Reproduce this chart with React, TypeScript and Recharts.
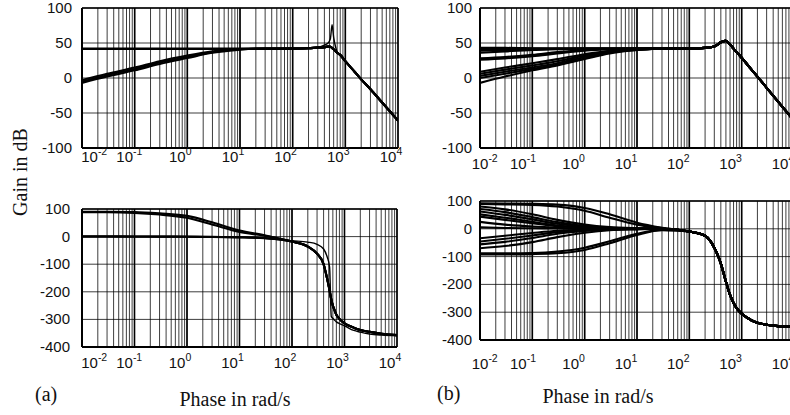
import { LineChart, Line, XAxis, YAxis, CartesianGrid, ReferenceLine } from 'recharts';

// frequency grids in rad/s
const freqA = [0.01, 0.03, 0.1, 0.3, 1, 3, 10, 30, 100, 200, 300, 400, 470, 520, 560, 600, 650, 700, 800, 1000, 1500, 2000, 3000, 5000, 10000];
const freqB = [0.01, 0.03, 0.1, 0.3, 1, 3, 10, 30, 100, 200, 300, 400, 500, 600, 700, 800, 1000, 1500, 2000, 3000, 5000, 10000];

// tick labels
const decadeExps = ['-2', '-1', '0', '1', '2', '3', '4'];
const gainTicks = [-100, -50, 0, 50, 100];
const phaseTicks = [-400, -300, -200, -100, 0, 100];

// (a) gain in dB
const gainTailA = [42, 42.5, 43.5, 44, 45, 44.5, 43, 41, 38.5, 36, 33, 24, 9, -2, -16, -35, -61];
const gainFlatA = [42, 42, 42, 42, 42, 42, 42, 42].concat(gainTailA);
const gainFlat2A = [41.5, 41.5, 41.5, 41.5, 41.5, 41.5, 41.5, 41.5].concat(gainTailA);
const gainRise1A = [-5, 4, 13, 22, 30, 37, 41, 42].concat(gainTailA);
const gainRise2A = [-7, 2, 11, 20, 28.5, 36, 40.5, 42].concat(gainTailA);
const gainRise3A = [-3, 6, 15, 24, 32, 38, 41.5, 42].concat(gainTailA);
const gainSharpA = [42, 42, 42, 42, 42, 42, 42, 42, 42, 42.5, 43.5, 47, 50, 56, 76, 58, 45, 37, 33, 24, 9, -2, -16, -35, -61];

// (a) phase
const phaseTailA = [-18, -36, -62, -100, -155, -195, -228, -250, -268, -283, -298, -314, -330, -338, -345, -352, -357];
const phaseRise1A = [90, 90, 89, 84, 75, 52, 22, 5].concat(phaseTailA);
const phaseRise2A = [88, 88, 86, 80, 68, 44, 17, 3].concat(phaseTailA);
const phaseFlat1A = [0, 0, 0, 0, 0, -1, -2, -5].concat(phaseTailA);
const phaseFlat2A = [1, 1, 0.5, 0, -0.5, -1.5, -3, -6].concat(phaseTailA);
const phaseSharpA = [0, 0, 0, 0, 0, -1, -2, -5, -15, -20, -28, -45, -75, -110, -290, -296, -303, -309, -315, -323, -340, -346, -353, -357, -359];

// (b) gain in dB
const gainTailB = [42, 43, 45, 51, 53, 48, 42, 37, 29, 13, 2, -14, -34, -61];
const gainHeadsB = [
  [43, 43, 42.5, 42, 42, 42, 42, 42],
  [41, 41.5, 42, 42, 42, 42, 42, 42],
  [39, 40, 41, 42, 42, 42, 42, 42],
  [36, 38, 40, 41, 42, 42, 42, 42],
  [28, 30, 33, 37, 40, 41.5, 42, 42],
  [26, 28, 31, 35, 39, 41, 42, 42],
  [9, 15, 21, 27, 34, 39, 41, 42],
  [6, 12, 18, 24, 32, 38, 41, 42],
  [3, 9, 15, 21, 30, 37, 40.5, 42],
  [0, 6, 13, 19, 28, 36, 40, 42],
  [-7, 2, 11, 18, 27, 35, 40, 42],
];

// (b) phase
const phaseTailB = [-10, -25, -68, -125, -190, -238, -267, -285, -305, -328, -338, -345, -350, -353];
const phaseHeadsB = [
  [92, 91, 90, 87, 75, 52, 22, 4],
  [89, 88, 86, 80, 65, 40, 15, 3],
  [80, 70, 52, 32, 15, 6, 2, 0],
  [71, 60, 42, 24, 10, 4, 1, 0],
  [62, 50, 34, 18, 8, 3, 1, 0],
  [52, 40, 25, 12, 5, 2, 0, 0],
  [44, 32, 20, 9, 4, 1, 0, 0],
  [25, 15, 8, 4, 2, 1, 0, 0],
  [5, 3, 2, 1, 0, 0, 0, 0],
  [-34, -25, -15, -7, -3, -1, 0, 0],
  [-46, -36, -24, -12, -5, -2, 0, 0],
  [-56, -47, -33, -18, -8, -3, -1, 0],
  [-70, -62, -48, -30, -14, -5, -2, 0],
  [-88, -88, -87, -82, -68, -45, -18, -4],
  [-92, -92, -91, -88, -76, -52, -22, -5],
];

const SANS = "'Liberation Sans', Arial, sans-serif";
const SERIF = "'Liberation Serif', 'Times New Roman', serif";

// grid lines at 1..9 x 10^k
const gridTicks: number[] = [];
for (let d = -2; d <= 3; d++) {
  for (let m = 1; m <= 9; m++) gridTicks.push(Number((m * Math.pow(10, d)).toPrecision(6)));
}
gridTicks.push(10000);
const decades = decadeExps.map((e) => Math.pow(10, Number(e)));

function buildRows(freq: number[], series: number[][]) {
  return freq.map((w, i) => {
    const row: Record<string, number> = { w };
    series.forEach((s, k) => { row['s' + k] = s[i]; });
    return row;
  });
}

type PanelProps = {
  left: number; top: number; width: number; height: number;
  plotLeft: number; plotTop: number; plotHeight: number; marginRight: number;
  freq: number[]; series: number[][]; thin?: number[];
  yDomain: [number, number]; yTicks: number[];
  labelDy: number; firstDx: number; restDx: number; yGap: number;
};

function Panel(p: PanelProps) {
  const rows = buildRows(p.freq, p.series);
  const plotBottom = p.plotTop + p.plotHeight;

  const xTick = (props: any) => {
    const v = props.payload.value;
    const lg = Math.log10(v);
    const e = Math.round(lg);
    if (Math.abs(lg - e) > 1e-6) return <g />;
    const k = e + 2;
    const cx = props.x + (k === 0 ? p.firstDx : p.restDx);
    return (
      <text x={cx - 8.3} y={plotBottom + p.labelDy + 6} fontSize={15} fontFamily={SANS} fill="#111">
        10<tspan dy={-7} fontSize={10.5}>{decadeExps[k]}</tspan>
      </text>
    );
  };

  const yTick = (props: any) => (
    <text x={p.plotLeft - p.yGap} y={props.y + 5} textAnchor="end" fontSize={15} fontFamily={SANS} fill="#111">
      {props.payload.value}
    </text>
  );

  return (
    <div style={{ position: 'absolute', left: p.left, top: p.top }}>
      <LineChart
        width={p.width}
        height={p.height}
        data={rows}
        margin={{ top: p.plotTop, right: p.marginRight, bottom: 0, left: 0 }}
      >
        <CartesianGrid stroke="#000" strokeWidth={0.9} strokeOpacity={0.85} />
        <XAxis
          dataKey="w"
          type="number"
          scale="log"
          domain={[0.01, 10000]}
          ticks={gridTicks}
          allowDataOverflow
          interval={0}
          height={p.height - plotBottom}
          tickLine={false}
          axisLine={{ stroke: '#000', strokeWidth: 2 }}
          tick={xTick}
        />
        <YAxis
          type="number"
          domain={p.yDomain}
          ticks={p.yTicks}
          interval={0}
          width={p.plotLeft}
          tickLine={false}
          axisLine={{ stroke: '#000', strokeWidth: 2 }}
          tick={yTick}
        />
        {decades.map((d) => (
          <ReferenceLine key={'d' + d} x={d} stroke="#000" strokeWidth={1.6} />
        ))}
        <ReferenceLine y={p.yDomain[1]} stroke="#000" strokeWidth={1.6} />
        {p.series.map((_, k) => (
          <Line
            key={k}
            dataKey={'s' + k}
            type="monotone"
            stroke="#000"
            strokeWidth={p.thin && p.thin.includes(k) ? 1.4 : 2.1}
            dot={false}
            isAnimationActive={false}
          />
        ))}
      </LineChart>
    </div>
  );
}

export default function App() {
  const seriesGainA = [gainFlatA, gainFlat2A, gainRise1A, gainRise2A, gainRise3A, gainSharpA];
  const seriesPhaseA = [phaseRise1A, phaseRise2A, phaseFlat1A, phaseFlat2A, phaseSharpA];
  const seriesGainB = gainHeadsB.map((h) => h.concat(gainTailB));
  const seriesPhaseB = phaseHeadsB.map((h) => h.concat(phaseTailB));

  return (
    <div style={{ position: 'absolute', left: 0, top: 0, width: 790, height: 415, overflow: 'hidden', background: '#fff' }}>
      <svg width={790} height={415} style={{ position: 'absolute', left: 0, top: 0 }}>
        <text transform="translate(26.5,172) rotate(-90)" textAnchor="middle" fontSize={20} fontFamily={SERIF} fill="#111">
          Gain in dB
        </text>
        <text x={35} y={401} fontSize={20} fontFamily={SERIF} fill="#111">(a)</text>
        <text x={235} y={406} textAnchor="middle" fontSize={20} fontFamily={SERIF} fill="#111">Phase in rad/s</text>
        <text x={437} y={400} fontSize={20} fontFamily={SERIF} fill="#111">(b)</text>
        <text x={598} y={403} textAnchor="middle" fontSize={20} fontFamily={SERIF} fill="#111">Phase in rad/s</text>
      </svg>

      <Panel
        left={0} top={0} width={412} height={175}
        plotLeft={82} plotTop={8} plotHeight={140} marginRight={14}
        freq={freqA} series={seriesGainA} thin={[5]}
        yDomain={[-100, 100]} yTicks={gainTicks}
        labelDy={8} firstDx={7.5} restDx={-10} yGap={10}
      />
      <Panel
        left={0} top={200} width={412} height={180}
        plotLeft={82} plotTop={9} plotHeight={138} marginRight={15}
        freq={freqA} series={seriesPhaseA} thin={[4]}
        yDomain={[-400, 100]} yTicks={phaseTicks}
        labelDy={15} firstDx={7.5} restDx={-10} yGap={12}
      />
      <Panel
        left={400} top={0} width={400} height={180}
        plotLeft={80} plotTop={8} plotHeight={140} marginRight={6}
        freq={freqB} series={seriesGainB}
        yDomain={[-100, 100]} yTicks={gainTicks}
        labelDy={14.5} firstDx={0} restDx={-14} yGap={8}
      />
      <Panel
        left={400} top={193} width={400} height={185}
        plotLeft={80} plotTop={8} plotHeight={139} marginRight={6}
        freq={freqB} series={seriesPhaseB}
        yDomain={[-400, 100]} yTicks={phaseTicks}
        labelDy={22.5} firstDx={0} restDx={-14} yGap={8}
      />
    </div>
  );
}
